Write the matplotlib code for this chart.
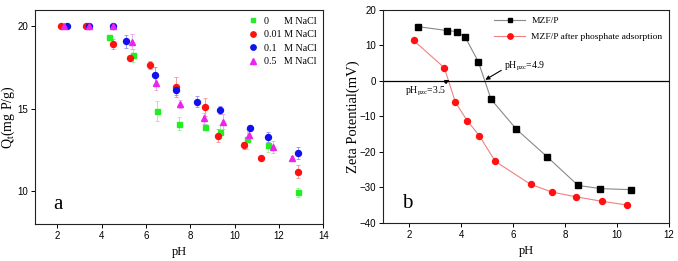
import matplotlib
matplotlib.use("Agg")
import matplotlib.pyplot as plt
import numpy as np

plt.rcParams['mathtext.fontset'] = 'custom'
plt.rcParams['mathtext.rm'] = 'Liberation Serif'
plt.rcParams['mathtext.it'] = 'Liberation Serif:italic'

SERIF = 'Liberation Serif'
SANS = 'Liberation Sans'

# ---------------- Panel a data ----------------
green_x = [4.32, 5.43, 6.50, 7.48, 8.66, 9.36, 10.57, 11.49, 12.87]
green_y = [19.33, 18.26, 14.85, 14.10, 13.88, 13.60, 13.15, 12.77, 9.92]
green_e = [0.10, 0.40, 0.60, 0.40, 0.20, 0.40, 0.60, 0.40, 0.25]

red_x = [2.18, 3.28, 4.54, 5.27, 6.17, 7.38, 8.66, 9.27, 10.43, 11.19, 12.86]
red_y = [20.0, 20.0, 18.95, 18.10, 17.68, 16.30, 15.11, 13.37, 12.77, 12.02, 11.17]
red_e = [0.05, 0.05, 0.30, 0.10, 0.25, 0.60, 0.55, 0.40, 0.20, 0.10, 0.40]

blue_x = [2.43, 3.45, 4.53, 5.12, 6.43, 7.38, 8.31, 9.36, 10.69, 11.50, 12.87]
blue_y = [20.0, 20.0, 20.0, 19.11, 17.03, 16.14, 15.43, 14.93, 13.86, 13.29, 12.30]
blue_e = [0.08, 0.08, 0.08, 0.40, 0.50, 0.30, 0.35, 0.25, 0.15, 0.30, 0.35]

mag_x = [2.32, 3.43, 4.51, 5.39, 6.47, 7.56, 8.61, 9.46, 10.66, 11.73, 12.59]
mag_y = [20.0, 20.0, 20.0, 19.07, 16.55, 15.27, 14.42, 14.22, 13.43, 12.69, 12.00]
mag_e = [0.10, 0.10, 0.10, 0.45, 0.40, 0.25, 0.35, 0.45, 0.30, 0.35, 0.10]

labels_a = ["0      M NaCl", "0.01 M NaCl", "0.1   M NaCl", "0.5   M NaCl"]

# ---------------- Panel b data ----------------
mzf_x = [2.35, 3.45, 3.85, 4.15, 4.66, 5.15, 6.12, 7.32, 8.50, 9.36, 10.53]
mzf_y = [15.3, 14.2, 13.9, 12.4, 5.4, -5.2, -13.6, -21.5, -29.5, -30.4, -30.7]

ads_x = [2.17, 3.35, 3.78, 4.23, 4.70, 5.31, 6.67, 7.51, 8.41, 9.43, 10.37]
ads_y = [11.4, 3.7, -6.1, -11.2, -15.5, -22.7, -29.2, -31.4, -32.7, -34.0, -35.0]

labels_b = ["MZF/P", "MZF/P after phosphate adsorption"]

fig = plt.figure(figsize=(6.78, 2.61), dpi=100)
axa = fig.add_axes([0.0516, 0.1418, 0.4252, 0.8199])
axb = fig.add_axes([0.5653, 0.1470, 0.4214, 0.8147])

def style(ax):
    for s in ax.spines.values():
        s.set_linewidth(0.8)
        s.set_color('#222222')
    ax.tick_params(direction='out', length=3, width=0.7, labelsize=7, pad=2)
    for lab in ax.get_xticklabels() + ax.get_yticklabels():
        lab.set_fontfamily(SANS)

# Panel a
series = [
    (green_x, green_y, green_e, 's', '#22ee22', '#99f099', 3.6),
    (red_x, red_y, red_e, 'o', '#ff1111', '#f09090', 4.3),
    (blue_x, blue_y, blue_e, 'o', '#1111ee', '#9090f0', 4.3),
    (mag_x, mag_y, mag_e, '^', '#ee22ee', '#f0a0f0', 4.3),
]
handles = []
for (x, y, e, m, c, ec, ms) in series:
    h = axa.errorbar(x, y, yerr=e, fmt=m, color=c, ecolor=ec, ms=ms,
                     elinewidth=0.6, capsize=1.5, capthick=0.6, mec=c, lw=0)
    handles.append(h)
axa.set_xlim(1, 14)
axa.set_ylim(8, 21)
axa.set_xticks([2, 4, 6, 8, 10, 12, 14])
axa.set_yticks([10, 15, 20])
style(axa)
axa.set_xlabel('pH', fontfamily=SERIF, fontsize=9, labelpad=4)
axa.set_ylabel(r'Q$_{\rm t}$(mg P/g)', fontfamily=SERIF, fontsize=10, labelpad=0)
axa.text(0.065, 0.07, 'a', transform=axa.transAxes, fontfamily=SERIF, fontsize=15)
leg = axa.legend([h[0] for h in handles], labels_a, loc='upper right', frameon=False,
                 prop={'family': SERIF, 'size': 7.2}, handletextpad=0.5, labelspacing=0.45,
                 handlelength=1.2, borderaxespad=0.3, markerscale=0.9)

# Panel b
axb.plot(mzf_x, mzf_y, '-s', color='#888888', mfc='black', mec='black', ms=3.8, lw=0.8,
         label=labels_b[0])
axb.plot(ads_x, ads_y, '-o', color='#f08080', mfc='#ff1111', mec='#ff1111', ms=4.3, lw=0.8,
         label=labels_b[1])
axb.axhline(0, color='black', lw=0.9)
axb.set_xlim(1, 12)
axb.set_ylim(-40, 20)
axb.set_xticks([2, 4, 6, 8, 10, 12])
axb.set_yticks([-40, -30, -20, -10, 0, 10, 20])
style(axb)
axb.set_xlabel('pH', fontfamily=SERIF, fontsize=9, labelpad=4)
axb.set_ylabel('Zeta Potential(mV)', fontfamily=SERIF, fontsize=10.5, labelpad=0)
axb.text(0.065, 0.07, 'b', transform=axb.transAxes, fontfamily=SERIF, fontsize=15)
axb.legend(loc='upper right', frameon=False, prop={'family': SERIF, 'size': 6.8},
           handlelength=3.2, handletextpad=0.7, labelspacing=0.8, borderaxespad=0.3,
           markerscale=0.9)
axb.annotate(r'pH$_{\rm pzc}$=3.5', xy=(3.55, 0.2), xytext=(1.85, -3.6),
             fontsize=7, fontfamily=SERIF,
             arrowprops=dict(arrowstyle='-|>', color='black', lw=0.8, mutation_scale=6,
                             shrinkA=0, shrinkB=0, relpos=(0.8, 1.0)))
axb.annotate(r'pH$_{\rm pzc}$=4.9', xy=(4.93, 0.3), xytext=(5.65, 3.6),
             fontsize=7, fontfamily=SERIF,
             arrowprops=dict(arrowstyle='-|>', color='black', lw=0.8, mutation_scale=6,
                             shrinkA=0, shrinkB=0, relpos=(0.0, 0.3)))

fig.savefig('out.png', dpi=100)
